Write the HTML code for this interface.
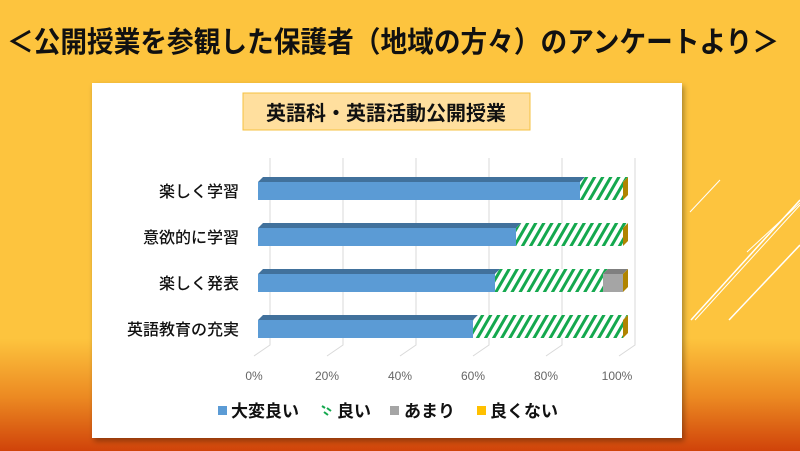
<!DOCTYPE html>
<html><head><meta charset="utf-8"><style>
body{margin:0;width:800px;height:451px;overflow:hidden;}
svg{display:block;}
text{font-family:"Liberation Sans","Noto Sans CJK JP",sans-serif;}
</style></head><body>
<svg width="800" height="451" viewBox="0 0 800 451" xmlns="http://www.w3.org/2000/svg">
<defs>
<linearGradient id="bg" x1="0" y1="0" x2="0" y2="1">
<stop offset="0" stop-color="#FDC43E"/>
<stop offset="0.75" stop-color="#FDC43E"/>
<stop offset="0.88" stop-color="#EC8A22"/>
<stop offset="1" stop-color="#D0430A"/>
</linearGradient>
<pattern id="hat" patternUnits="userSpaceOnUse" width="7" height="7" patternTransform="rotate(30)">
<rect width="7" height="7" fill="#fff"/>
<rect width="3" height="7" fill="#14A84E"/>
</pattern>
<filter id="sh" x="-5%" y="-5%" width="110%" height="110%"><feDropShadow dx="2" dy="3" stdDeviation="3" flood-opacity="0.35"/></filter>
</defs>
<rect width="800" height="451" fill="url(#bg)"/>
<g stroke="#fff" fill="none">
<line x1="691" y1="320" x2="800" y2="200" stroke-width="1.5"/>
<line x1="695" y1="320" x2="800" y2="205" stroke-width="1"/>
<line x1="729" y1="320" x2="800" y2="245" stroke-width="1.5"/>
<line x1="747" y1="252" x2="800" y2="203" stroke-width="1"/>
<line x1="690" y1="212" x2="720" y2="180" stroke-width="1"/>
</g>
<rect x="92" y="83" width="590" height="355" fill="#fff" filter="url(#sh)"/>
<text transform="translate(393,52) scale(0.92,1)" text-anchor="middle" font-size="29" font-weight="bold" fill="#111">＜公開授業を参観した保護者（地域の方々）のアンケートより＞</text>
<rect x="243" y="93" width="287" height="37" fill="#FFDF9E" stroke="#F5C040"/>
<text x="386" y="120" text-anchor="middle" font-size="20" font-weight="bold" fill="#111">英語科・英語活動公開授業</text>
<g stroke="#d9d9d9" stroke-width="1" fill="none">
<path d="M270 158V345L254 356"/><path d="M343 158V345L327 356"/><path d="M416 158V345L400 356"/>
<path d="M489 158V345L473 356"/><path d="M562 158V345L546 356"/><path d="M635 158V345L619 356"/>
</g>
<g font-size="12" fill="#666" text-anchor="middle">
<text x="254" y="380">0%</text><text x="327" y="380">20%</text><text x="400" y="380">40%</text>
<text x="473" y="380">60%</text><text x="546" y="380">80%</text><text x="617" y="380">100%</text>
</g>
<g font-size="16" fill="#111" text-anchor="end" font-weight="500">
<text x="239" y="197">楽しく学習</text>
<text x="239" y="243">意欲的に学習</text>
<text x="239" y="289">楽しく発表</text>
<text x="239" y="335">英語教育の充実</text>
</g>
<g id="bars">
<polygon points="258,182 263,177 585,177 580,182" fill="#41719C"/>
<rect x="258" y="182" width="322" height="18" fill="#5B9BD5"/>
<polygon points="580,182 585,177 628,177 623,182" fill="url(#hat)"/>
<rect x="580" y="182" width="43" height="18" fill="url(#hat)"/>
<polygon points="623,182 628,177 628,195 623,200" fill="#B08400"/>
<polygon points="258,228 263,223 521,223 516,228" fill="#41719C"/>
<rect x="258" y="228" width="258" height="18" fill="#5B9BD5"/>
<polygon points="516,228 521,223 628,223 623,228" fill="url(#hat)"/>
<rect x="516" y="228" width="107" height="18" fill="url(#hat)"/>
<polygon points="623,228 628,223 628,241 623,246" fill="#B08400"/>
<polygon points="258,274 263,269 500,269 495,274" fill="#41719C"/>
<rect x="258" y="274" width="237" height="18" fill="#5B9BD5"/>
<polygon points="495,274 500,269 608,269 603,274" fill="url(#hat)"/>
<rect x="495" y="274" width="108" height="18" fill="url(#hat)"/>
<polygon points="603,274 608,269 628,269 623,274" fill="#7F7F7F"/>
<rect x="603" y="274" width="20" height="18" fill="#A5A5A5"/>
<polygon points="623,274 628,269 628,287 623,292" fill="#B08400"/>
<polygon points="258,320 263,315 478,315 473,320" fill="#41719C"/>
<rect x="258" y="320" width="215" height="18" fill="#5B9BD5"/>
<polygon points="473,320 478,315 628,315 623,320" fill="url(#hat)"/>
<rect x="473" y="320" width="150" height="18" fill="url(#hat)"/>
<polygon points="623,320 628,315 628,333 623,338" fill="#B08400"/>
</g>
<rect x="218" y="406" width="9" height="9" fill="#5B9BD5"/>
<text x="231" y="417" font-size="17" font-weight="bold" fill="#111">大変良い</text>
<path d="M322 406l3 2M324 412l4 3M327 408l4 3" stroke="#14A84E" stroke-width="2"/>
<text x="337" y="417" font-size="17" font-weight="bold" fill="#111">良い</text>
<rect x="390" y="406" width="9" height="9" fill="#A5A5A5"/>
<text x="404" y="417" font-size="17" font-weight="bold" fill="#111">あまり</text>
<rect x="477" y="406" width="9" height="9" fill="#FFC000"/>
<text x="490" y="417" font-size="17" font-weight="bold" fill="#111">良くない</text>
</svg>
</body></html>
